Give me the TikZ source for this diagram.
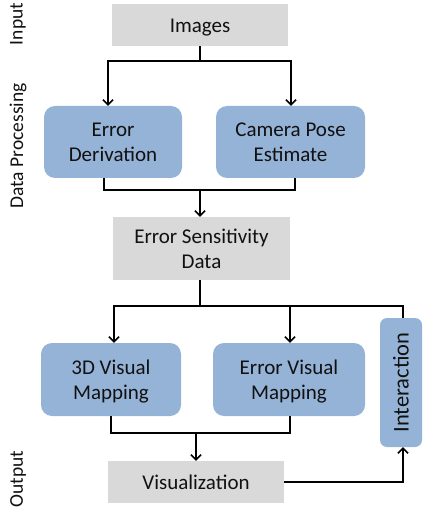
\documentclass[tikz,border=0pt]{standalone}
\usepackage{fontspec}
\setmainfont{Carlito}
\usetikzlibrary{arrows.meta}
\definecolor{boxblue}{HTML}{95B3D7}
\definecolor{boxgray}{HTML}{D9D9D9}
\definecolor{txt}{HTML}{111111}
\newcommand\lowtext[1]{\raisebox{-2.5pt}[\height][\depth]{\begin{tabular}{@{}c@{}}#1\end{tabular}}}
\begin{document}
\begin{tikzpicture}[x=1pt,y=-1pt,
  font=\fontsize{21}{25}\selectfont, text=txt,
  graybox/.style={fill=boxgray, draw=none, align=center, inner sep=0pt},
  bluebox/.style={fill=boxblue, draw=none, rounded corners=11pt, align=center, inner sep=0pt},
  sidelabel/.style={rotate=90, font=\fontsize{19.5}{22}\selectfont},
  conn/.style={line width=1.5pt, draw=black},
  arr/.style={conn, -{Straight Barb[length=5pt,width=10pt,line width=1.5pt]}}]
\useasboundingbox (0,0) rectangle (422,510);

\node[graybox, minimum width=176pt, minimum height=42pt] (img) at (200,25) {\lowtext{Images}};
\node[bluebox, minimum width=138pt, minimum height=72pt] (ed) at (113,142) {\lowtext{Error\\Derivation}};
\node[bluebox, minimum width=149pt, minimum height=72pt] (cp) at (290.5,142) {\lowtext{Camera Pose\\Estimate}};
\node[graybox, minimum width=177pt, minimum height=63pt] (esd) at (201.5,248.5) {\lowtext{Error Sensitivity\\Data}};
\node[bluebox, minimum width=140pt, minimum height=73pt] (vm3) at (111,379.5) {\lowtext{3D Visual\\Mapping}};
\node[bluebox, minimum width=152pt, minimum height=73pt] (evm) at (289,379.5) {\lowtext{Error Visual\\Mapping}};
\node[bluebox, rounded corners=7pt, minimum width=42pt, minimum height=129pt] (inter) at (401,382.5) {};
\node[rotate=90, font=\fontsize{22.5}{26}\selectfont] (intertxt) at (inter.center) {Interaction};
\node[graybox, minimum width=176pt, minimum height=42pt] (vis) at (196,482) {\lowtext{Visualization}};

\node[sidelabel] (lin) at (18,24) {Input};
\node[sidelabel] (ldp) at (18,146) {Data Processing};
\node[sidelabel] (lout) at (18,479) {Output};

% Images -> Error Derivation / Camera Pose
\coordinate (s1) at (200,61);
\draw[conn] (img.south) -- (s1);
\draw[arr] (s1) -| (ed.north -| 108,0);
\draw[arr] (s1) -| (cp.north -| 291,0);

% merge -> Error Sensitivity Data
\coordinate (m1) at (200,190);
\draw[conn] (ed.south -| 104,0) |- (m1);
\draw[conn] (cp.south -| 295,0) |- (m1);
\draw[arr] (m1) -- (esd.north -| m1);

% Error Sensitivity Data -> mappings and interaction
\coordinate (s2) at (200,306);
\draw[conn] (esd.south -| s2) -- (s2);
\draw[arr] (s2) -| (vm3.north -| 114,0);
\draw[arr] (s2) -| (evm.north -| 290,0);
\draw[conn] (s2) -| (inter.north -| 403,0);

% mappings -> Visualization
\coordinate (m2) at (196,433);
\draw[conn] (vm3.south -| 111,0) |- (m2);
\draw[conn] (evm.south -| 290,0) |- (m2);
\draw[arr] (m2) -- (vis.north -| m2);

% Visualization -> Interaction
\draw[arr] (vis.east) -| (inter.south -| 403,0);
\end{tikzpicture}
\end{document}
